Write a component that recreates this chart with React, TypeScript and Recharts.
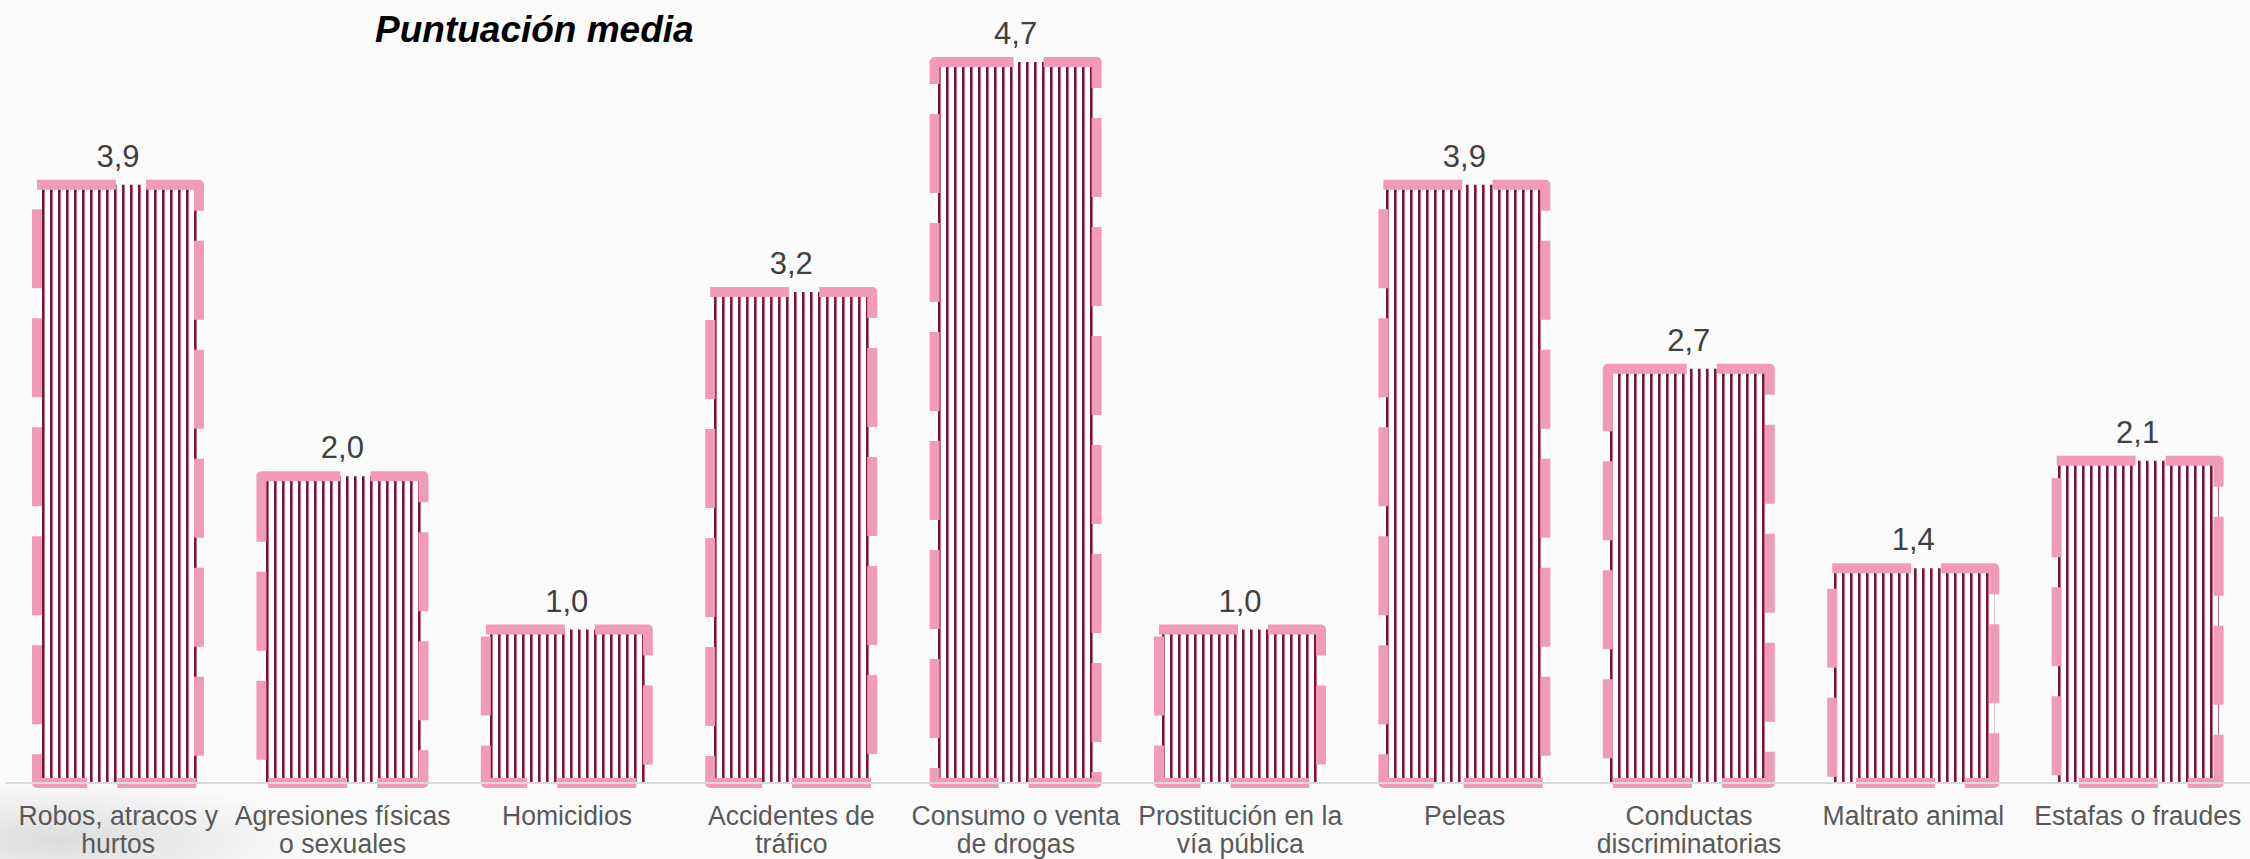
import React from "react";
import { BarChart, Bar, XAxis, YAxis, LabelList } from "recharts";

const categories = [
  "Robos, atracos y\nhurtos",
  "Agresiones físicas\no sexuales",
  "Homicidios",
  "Accidentes de\ntráfico",
  "Consumo o venta\nde drogas",
  "Prostitución en la\nvía pública",
  "Peleas",
  "Conductas\ndiscriminatorias",
  "Maltrato animal",
  "Estafas o fraudes",
];

const values = [3.9, 2.0, 1.0, 3.2, 4.7, 1.0, 3.9, 2.7, 1.4, 2.1];

const data = categories.map((name, i) => ({ name, value: values[i] }));

const FONT = '"Liberation Sans", Arial, sans-serif';

// labels in the source look slightly condensed, so squeeze them a bit
function CategoryTick({ x, y, payload }: any) {
  const lines = String(payload.value).split("\n");
  return (
    <g transform={`translate(${x},${y}) scale(0.95,1)`}>
      <text x={0} y={0} textAnchor="middle" fill="#595959" fontSize={28} fontFamily={FONT}>
        {lines.map((line, i) => (
          <tspan key={i} x={0} dy={i === 0 ? 42 : 28}>
            {line}
          </tspan>
        ))}
      </text>
    </g>
  );
}

function ValueLabel({ x, y, width, value }: any) {
  return (
    <text
      x={x + width / 2}
      y={y - 18}
      textAnchor="middle"
      fill="#404040"
      fontSize={31}
      fontFamily={FONT}
    >
      {Number(value).toFixed(1).replace(".", ",")}
    </text>
  );
}

export default function App() {
  return (
    <div
      style={{
        position: "absolute",
        left: 0,
        top: 0,
        width: 2250,
        height: 859,
        background:
          "radial-gradient(ellipse 260px 60px at 60px 840px, rgba(150,150,150,0.3), rgba(255,255,255,0) 100%), #fbfbfb",
      }}
    >
      <div
        style={{
          position: "absolute",
          left: 375,
          top: 11,
          fontFamily: FONT,
          fontSize: 37,
          lineHeight: "37px",
          fontWeight: "bold",
          fontStyle: "italic",
          color: "#000",
          whiteSpace: "nowrap",
        }}
      >
        Puntuación media
      </div>
      <BarChart
        width={2250}
        height={859}
        data={data}
        margin={{ top: 16, right: 0, left: 6, bottom: 0 }}
      >
        <defs>
          <pattern id="stripes" patternUnits="userSpaceOnUse" width={8} height={8}>
            <rect x={0} y={0} width={8} height={8} fill="#ffffff" />
            <rect x={2} y={0} width={2.6} height={8} fill="#7d1538" />
          </pattern>
        </defs>
        <XAxis
          dataKey="name"
          interval={0}
          height={76}
          tickLine={false}
          tickSize={0}
          tickMargin={0}
          axisLine={{ stroke: "#d9d9d9", strokeWidth: 2 }}
          tick={<CategoryTick />}
        />
        <YAxis hide domain={[0, 5]} />
        <Bar
          dataKey="value"
          barSize={162}
          fill="url(#stripes)"
          stroke="#f29bb6"
          strokeWidth={10}
          strokeDasharray="79 30"
          strokeLinejoin="round"
          isAnimationActive={false}
        >
          <LabelList dataKey="value" content={<ValueLabel />} />
        </Bar>
      </BarChart>
    </div>
  );
}
